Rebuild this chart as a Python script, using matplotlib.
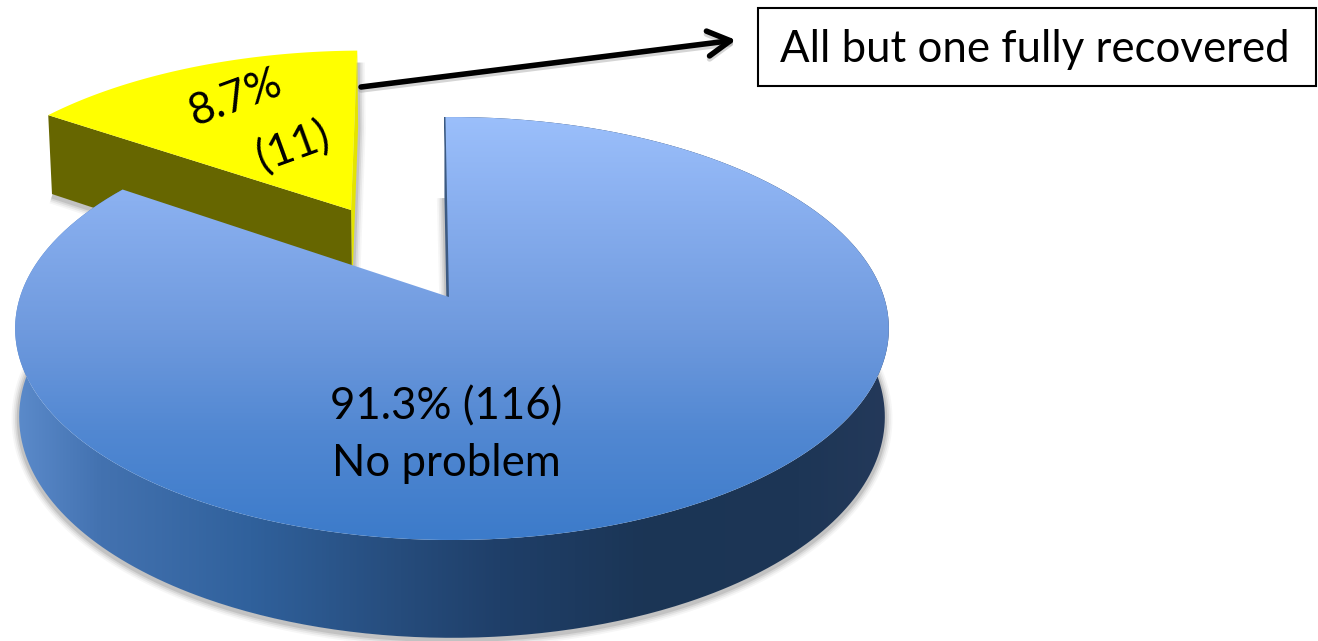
import matplotlib
matplotlib.use('Agg')
import matplotlib.pyplot as plt
import numpy as np
from matplotlib.colors import LinearSegmentedColormap
from matplotlib.patches import FancyArrowPatch, PathPatch, Polygon, Rectangle
from matplotlib.path import Path

plt.rcParams['font.family'] = ['Lato', 'DejaVu Sans']

# drawn slice sizes (the slice is drawn larger than its label says)
categories = ['No problem', 'Recovered']
drawn_share = [84.8, 15.2]
percent_labels = ['91.3%', '8.7%']
count_labels = ['(116)', '(11)']
callout = 'All but one fully recovered'

start_angle = 91
explode = 0.51

# blue gradients: (pixel position, colour)
top_stops = [(117, '#9bbffb'), (200, '#8ab0f0'), (330, '#6f9ade'), (430, '#5288d2'), (540, '#3c7bca')]
side_stops = [(15, '#5b8bcb'), (100, '#4372b0'), (250, '#30619c'), (400, '#264c7c'),
              (500, '#1f3f69'), (650, '#1b3555'), (800, '#1d3656'), (889, '#24395a')]

W, H = 1318, 641
fig = plt.figure(figsize=(W / 100, H / 100), dpi=100)
ax = fig.add_axes([0, 0, 1, 1])
ax.set_xlim(0, W)
ax.set_ylim(H, 0)
ax.axis('off')


def top(u, v):
    # flat disc seen in perspective, top face
    k = 0.149
    u, v = np.atleast_1d(u), np.atleast_1d(v)
    return np.column_stack([452 + 432 * u / (1 + k * v), 297 - 206.8 * v / (1 + k * v)])


def bottom(u, v):
    k = 0.149
    u, v = np.atleast_1d(u), np.atleast_1d(v)
    return np.column_stack([452 + 428 * u / (1 + k * v), 384 - 216 * v / (1 + k * v)])


def gradient(stops, extent, clip, vertical, zorder):
    lo, hi = stops[0][0], stops[-1][0]
    cmap = LinearSegmentedColormap.from_list('g', [((p - lo) / (hi - lo), c) for p, c in stops])
    ramp = np.linspace(0, 1, 512)
    ramp = ramp[:, None] if vertical else ramp[None, :]
    im = ax.imshow(ramp, cmap=cmap, extent=extent, aspect='auto', zorder=zorder)
    patch = PathPatch(Path(clip), transform=ax.transData, fc='none', ec='none')
    ax.add_patch(patch)
    im.set_clip_path(patch)


def soft_shadow(pts, zorder):
    # grey halo, a little lower than the shape
    for lw, a in zip([11, 8.5, 6, 3.5], [0.05, 0.08, 0.11, 0.16]):
        ax.add_patch(Polygon(pts + [0, 2], closed=False, fc='none', ec='#555555', lw=lw, alpha=a,
                             joinstyle='round', zorder=zorder))


# wedge angles come from the drawn shares
yellow_span = drawn_share[1] / sum(drawn_share) * 360
blue_span = drawn_share[0] / sum(drawn_share) * 360
yell_t = np.radians(np.linspace(start_angle, start_angle + yellow_span, 80))
blue_t = np.radians(np.linspace(start_angle + yellow_span, start_angle + yellow_span + blue_span, 500))
yell_mid = np.radians(start_angle + yellow_span / 2)

# ---- yellow slice, behind the blue one
cu, cv = -0.007, 0.0
du, dv = cu + explode * np.cos(yell_mid), cv + explode * np.sin(yell_mid)
yu, yv = du + np.cos(yell_t), dv + np.sin(yell_t)

yt_arc = top(yu, yv)
yb_arc = bottom(yu, yv)
y_apex = top(du, dv)
y_apex_b = bottom(du, dv)

soft_shadow(np.vstack([yb_arc[-1], y_apex_b, yb_arc[0], yt_arc[0] + [0, 10]]), 1)
ax.add_patch(Polygon(np.vstack([yt_arc[0], y_apex, y_apex_b, yb_arc[0]]), fc='#e4e400', ec='none', zorder=2))
ax.add_patch(Polygon(np.vstack([yt_arc[-1], y_apex, y_apex_b, yb_arc[-1]]), fc='#666600', ec='none', zorder=3))
ax.add_patch(Polygon(np.vstack([y_apex, yt_arc]), fc='#ffff00', ec='none', zorder=4))

# ---- blue slice
bu, bv = np.cos(blue_t), np.sin(blue_t)
bt_arc = top(bu, bv)
bb_arc = bottom(bu, bv)
apex = top(cu, cv)
apex_b = bottom(cu, cv)

side = np.vstack([bt_arc, bb_arc[::-1]])
soft_shadow(bb_arc[(bb_arc[:, 1] > 300)], 5)
soft_shadow(np.vstack([bb_arc[-1] + [-1, 0], apex_b]), 5)
gradient(side_stops, (15, 889, H, 0), side, False, 6)

# thin inner wall next to the gap
ax.add_patch(Polygon(np.vstack([bt_arc[-1], bb_arc[-1], apex_b, apex]), fc='#3c5a82', ec='#3c5a82', lw=1.5, zorder=7))

gradient(top_stops, (0, W, 540, 117), np.vstack([apex, bt_arc]), True, 8)

# ---- texts
ax.text(446, 407, percent_labels[0] + ' ' + count_labels[0], fontsize=31.5, ha='center', va='center', zorder=10)
ax.text(446, 464, categories[0], fontsize=31.5, ha='center', va='center', zorder=10)
ax.text(236, 98, percent_labels[1], fontsize=31.5, rotation=20, ha='center', va='center', zorder=10)
ax.text(293, 147, count_labels[1], fontsize=31.5, rotation=20, ha='center', va='center', zorder=10)

ax.add_patch(Rectangle((758, 8), 558, 78, fc='white', ec='black', lw=1.5, zorder=10))
ax.text(1035, 49, callout, fontsize=31.5, ha='center', va='center', zorder=11)

# arrow with its faint shadow
ax.add_patch(FancyArrowPatch((361, 90), (736, 43), arrowstyle='->,head_length=0.9,head_width=0.5',
                             mutation_scale=18, lw=4, color='#888888', alpha=0.35, shrinkA=0, shrinkB=0, zorder=3))
ax.add_patch(FancyArrowPatch((361, 87), (736, 40), arrowstyle='->,head_length=0.9,head_width=0.5',
                             mutation_scale=18, lw=4, color='black', shrinkA=0, shrinkB=0, zorder=9))

fig.savefig('out.png', dpi=100)
